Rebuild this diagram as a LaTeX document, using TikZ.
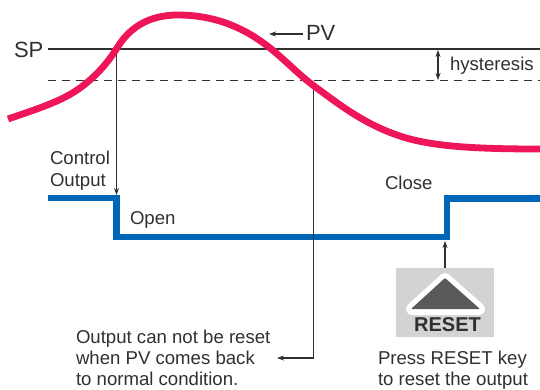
\documentclass[tikz,border=0pt]{standalone}
\usepackage{fontspec}
\setmainfont{Liberation Sans}
\usetikzlibrary{arrows.meta}
\definecolor{curvecol}{HTML}{EE1558}
\definecolor{outcol}{HTML}{0066B8}
\definecolor{inkcol}{HTML}{303030}
\definecolor{keybg}{HTML}{D1D3D4}
\definecolor{keytri}{HTML}{58595B}
\tikzset{
  lbl/.style={inner sep=0pt,outer sep=0pt,anchor=base west,text=inkcol,font=\fontsize{18.6}{22}\selectfont},
  big/.style={lbl,font=\fontsize{22}{26}\selectfont},
  thin/.style={draw=inkcol,line width=1.1pt},
  tip/.style={-{Stealth[length=7pt,width=5pt]}},
  tips/.style={{Stealth[length=7pt,width=5pt]}-{Stealth[length=7pt,width=5pt]}},
  pvcurve/.style={draw=curvecol,line width=6.8pt},
  outline/.style={draw=outcol,line width=6.6pt,line join=miter}
}
\begin{document}
\begin{tikzpicture}[x=1pt,y=-1pt]
\useasboundingbox (0,0) rectangle (540,389);
% reference lines
\coordinate (spL) at (48,49); \coordinate (spR) at (540,49);
\coordinate (hyL) at (48,80); \coordinate (hyR) at (540,80);
\draw[draw=inkcol,line width=1.7pt] (spL) -- (spR);
\draw[draw=inkcol,line width=0.9pt,dash pattern=on 8pt off 6pt] (hyL) -- (hyR);
% drop lines
\coordinate (c1) at (116.5,50); \coordinate (o1) at (116.5,195);
\coordinate (c2) at (313.6,86); \coordinate (o2) at (313.6,358);
\coordinate (txt) at (277,358);
% output
\draw[outline] (48,198) -- (116.5,198) -- (116.5,237) -- (447,237) -- (447,198.5) -- (540,198.5);
\draw[thin,tip] (c1) -- (o1);
\draw[thin,tip] (o2) -- (txt);
\draw[thin] (c2) -- (o2);
% PV curve
\draw[pvcurve] (8,119) .. controls (40,108) and (62,101) .. (80,88)
  .. controls (95,77) and (107,64) .. (117,48)
  .. controls (128,30) and (146,15) .. (178,15)
  .. controls (215,15) and (245,28) .. (270,48)
  .. controls (285,60) and (298,74) .. (314,86)
  .. controls (340,105) and (365,125) .. (403,137)
  .. controls (435,147) and (480,149) .. (540,149);
% labels
\node[big] (sp) at (14,57.5) {SP};
\node[big] (pv) at (306,40.5) {PV};
\coordinate (pvtip) at (269,34);
\draw[thin,tip] (pv.west |- pvtip) ++(-3,0) coordinate (pvs) -- (pvtip);
\node[lbl] (hy) at (450,70) {hysteresis};
\coordinate (h1) at (438,50); \coordinate (h2) at (438,80);
\draw[thin,tips] (h1) -- (h2);
\node[lbl] (co1) at (50,164) {Control};
\node[lbl] (co2) at (50,186) {Output};
\node[lbl] (op) at (130,224) {Open};
\node[lbl] (cl) at (385,189) {Close};
\node[lbl] (n1) at (76,343) {Output can not be reset};
\node[lbl] (n2) at (76,364) {when PV comes back};
\node[lbl] (n3) at (76,385) {to normal condition.};
\node[lbl] (p1) at (378,364) {Press RESET key};
\node[lbl] (p2) at (378,385) {to reset the output};
% key
\node[fill=keybg,minimum width=98pt,minimum height=69pt,inner sep=0pt,outer sep=0pt] (key) at (445,302.5) {};
\draw[white,fill=white,line width=12pt,line join=round] (445,279) -- (479,309) -- (412,309) -- cycle;
\fill[keytri,rounded corners=1pt] (445,278) -- (480,309) -- (411,309) -- cycle;
\node[inner sep=0pt,anchor=base,text=inkcol,font=\fontsize{20}{24}\selectfont\bfseries] (rs) at (447.5,331) {RESET};
\draw[draw=inkcol,line width=1.1pt,tip] (key.north) -- (445,241);
\end{tikzpicture}
\end{document}
